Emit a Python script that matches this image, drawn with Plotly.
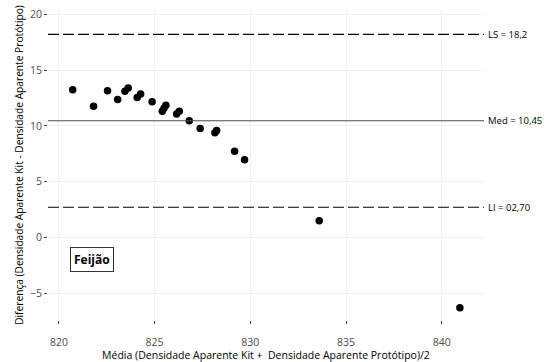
import plotly.graph_objects as go

# Bland-Altman data: mean of the two methods vs. their difference
media = [820.72, 821.81, 822.54, 823.07, 823.45, 823.62, 824.09, 824.27, 824.87,
         825.40, 825.49, 825.59, 826.15, 826.29, 826.81, 827.38, 828.15, 828.24,
         829.18, 829.70, 833.60, 840.95]
diferenca = [13.24, 11.75, 13.15, 12.35, 13.09, 13.39, 12.55, 12.86, 12.17,
             11.30, 11.57, 11.84, 11.07, 11.30, 10.45, 9.76, 9.37, 9.58,
             7.71, 6.96, 1.48, -6.31]

ls_val = 18.2
med_val = 10.45
li_val = 2.70
ref_labels = ["LS = 18,2", "Med = 10,45", "LI = 02,70"]

FONT = "Open Sans"

fig = go.Figure()
fig.add_trace(go.Scatter(
    x=media, y=diferenca, mode="markers",
    marker=dict(color="black", size=7.5),
    showlegend=False, hoverinfo="x+y",
))

# Reference lines: upper limit, mean, lower limit
for val, dash, col in [(ls_val, "11px,4px", "black"),
                       (med_val, "solid", "#4d4d4d"),
                       (li_val, "11px,4px", "black")]:
    fig.add_shape(type="line", xref="x domain", yref="y",
                  x0=0, x1=1, y0=val, y1=val,
                  line=dict(color=col, width=1.1, dash=dash))

for val, txt in zip([ls_val, med_val, li_val], ref_labels):
    fig.add_annotation(x=1, xref="paper", y=val, yref="y", text=txt,
                       showarrow=False, xanchor="left", xshift=2,
                       font=dict(family=FONT, size=9.5, color="black"))

fig.add_annotation(x=821.75, y=-1.99, xref="x", yref="y", text="<b>Feijão</b>",
                   showarrow=False, bgcolor="white", bordercolor="#333333",
                   borderwidth=1, borderpad=3,
                   font=dict(family=FONT, size=12, color="black"))

axis_common = dict(
    showgrid=True, gridcolor="#f0f0f0", gridwidth=1,
    zeroline=False, showline=False, automargin=False,
    ticks="outside", ticklen=3, tickcolor="#444444", tickwidth=1,
    tickfont=dict(family=FONT, size=10.5, color="#4d4d4d"),
)

fig.update_layout(
    width=547, height=362,
    margin=dict(l=48, r=63, t=10, b=42),
    plot_bgcolor="white", paper_bgcolor="white",
    xaxis=dict(range=[819.43, 842.21], tickvals=[820, 825, 830, 835, 840],
               ticklabelstandoff=9,
               title=dict(text="Média (Densidade Aparente Kit +  Densidade Aparente Protótipo)/2",
                          font=dict(family=FONT, size=10.5, color="black"), standoff=4),
               **axis_common),
    yaxis=dict(range=[-7.42, 20.39], tickvals=[-5, 0, 5, 10, 15, 20],
               title=dict(text="Diferença (Densidade Aparente Kit - Densidade Aparente Protótipo)",
                          font=dict(family=FONT, size=10.2, color="black"), standoff=4),
               **axis_common),
)

fig.write_html("out.html")
